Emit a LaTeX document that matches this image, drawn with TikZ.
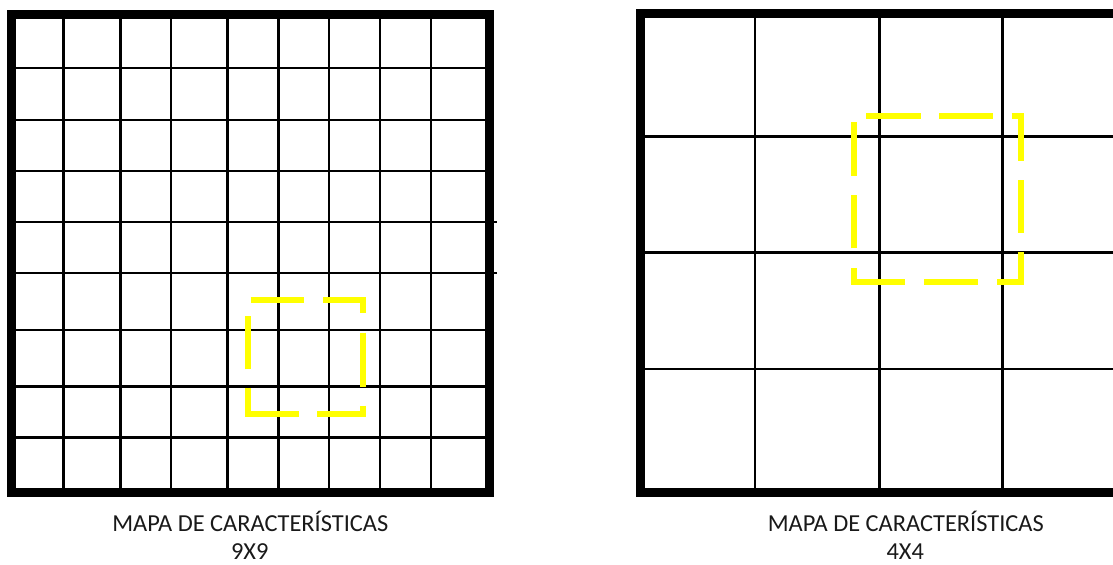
\documentclass[tikz,border=0pt]{standalone}
\usepackage{fontspec}
\setmainfont{Carlito}
\definecolor{dashyellow}{RGB}{255,255,0}
\begin{document}
\begin{tikzpicture}[x=0.75pt,y=-0.75pt,
  gridline/.style={line width=1.9pt,black},
  border/.style={line width=6.75pt,black,line join=miter},
  yellowdash/.style={line width=4.5pt,dashyellow,line cap=butt,line join=miter},
  caption/.style={font=\fontsize{18.3}{22}\selectfont,anchor=base,inner sep=0pt,text=black!90}]
\useasboundingbox (0,0) rectangle (1113,564);
\clip (0,0) rectangle (1113,564);
% ---------- left 9x9 grid ----------
\foreach \x in {63.7,120.5,171,227.7,278.5,329,380,431}
  \draw[gridline] (\x,14.5) -- (\x,492.5);
\foreach \y in {68,120,171,330,386.7,437.7}
  \draw[gridline] (11.5,\y) -- (489,\y);
\foreach \y in {222,273}
  \draw[gridline] (11.5,\y) -- (496.7,\y);
\draw[border] (11.5,14.5) rectangle (489,492.5);
% yellow dashed square (left)
\draw[yellowdash] (250.7,300) -- (304,300);
\draw[yellowdash] (323.3,300) -- (362.7,300) -- (362.7,313.3);
\draw[yellowdash] (362.7,332.7) -- (362.7,386.7);
\draw[yellowdash] (362.7,405.7) -- (362.7,414.3) -- (317.3,414.3);
\draw[yellowdash] (299,414.3) -- (247.7,414.3) -- (247.7,388.3);
\draw[yellowdash] (247.7,369.3) -- (247.7,315.7);
% ---------- right 4x4 grid ----------
\foreach \x in {755,879.3,1002.7}
  \draw[gridline] (\x,13.8) -- (\x,492);
\foreach \y in {136.7,252.3,369}
  \draw[gridline] (640.5,\y) -- (1140,\y);
\draw[border] (640.5,13.8) rectangle (1131,492);
% yellow dashed square (right)
\draw[yellowdash] (866,116) -- (920.7,116);
\draw[yellowdash] (939.3,116) -- (993.3,116);
\draw[yellowdash] (1011.7,116) -- (1020.7,116) -- (1020.7,161);
\draw[yellowdash] (1020.7,180) -- (1020.7,233.3);
\draw[yellowdash] (1020.7,252.3) -- (1020.7,282.3) -- (996.7,282.3);
\draw[yellowdash] (977.7,282.3) -- (924.3,282.3);
\draw[yellowdash] (905,282.3) -- (854,282.3) -- (854,267.7);
\draw[yellowdash] (854,248.3) -- (854,195);
\draw[yellowdash] (854,176) -- (854,122.3);
% ---------- captions ----------
\node[caption] (capL) at (250.3,531.5) {MAPA DE CARACTERÍSTICAS};
\node[caption] (sizeL) at (249.7,559) {9X9};
\node[caption] (capR) at (905.8,531.5) {MAPA DE CARACTERÍSTICAS};
\node[caption] (sizeR) at (905.3,559) {4X4};
\end{tikzpicture}
\end{document}
